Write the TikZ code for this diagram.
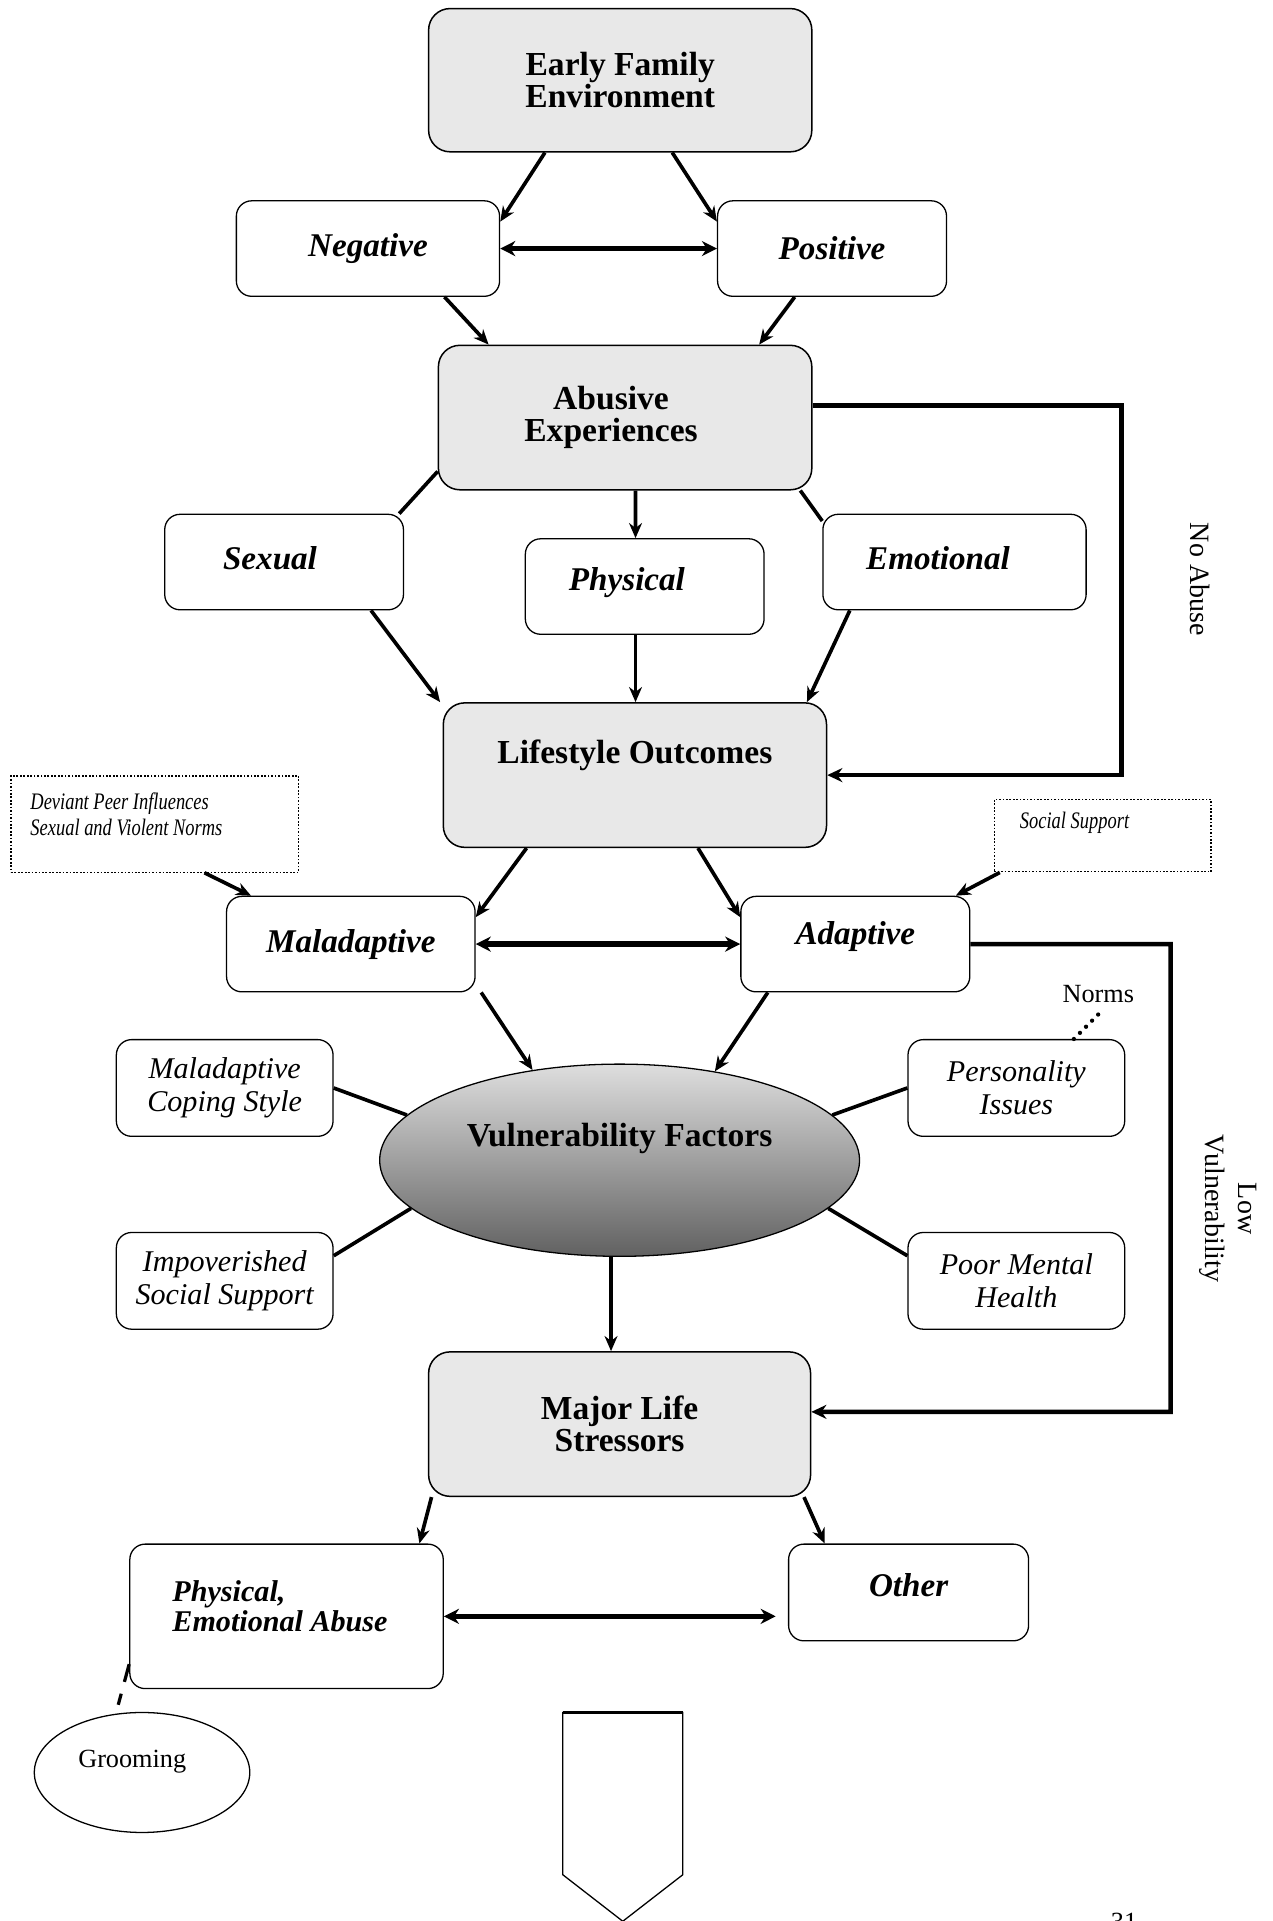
\documentclass[tikz,border=0pt]{standalone}
\usepackage{fontspec}
\setmainfont{Liberation Serif}
\newfontfamily\narrowfont[FakeStretch=0.78]{Liberation Serif}
\usepackage{tikz}
\usetikzlibrary{shapes.geometric, arrows.meta, calc}
\tikzstyle{bigbox} = [rectangle, rounded corners=0.35cm, minimum width=6.26cm, minimum height=2.36cm, align=center, draw=black, line width=0.7pt, fill=gray!18, font=\bfseries\fontsize{15.6}{15}\selectfont]
\tikzstyle{smallbox} = [rectangle, rounded corners=0.25cm, minimum height=1.56cm, align=center, draw=black, line width=0.6pt, fill=white, font=\bfseries\itshape\fontsize{15.4}{15}\selectfont]
\tikzstyle{sidebox} = [rectangle, rounded corners=0.25cm, minimum width=3.54cm, minimum height=1.58cm, align=center, draw=black, line width=0.6pt, font=\itshape\fontsize{14}{15.4}\selectfont]
\tikzstyle{notebox} = [rectangle, draw=black, line width=0.6pt, dash pattern=on 0.8pt off 0.8pt]
\tikzstyle{notetext} = [inner sep=0pt, align=left, font=\narrowfont\itshape\fontsize{11}{12.5}\selectfont]
\tikzstyle{sidelabel} = [font=\fontsize{13}{15}\selectfont]
\tikzstyle{plainlabel} = [font=\fontsize{12.2}{14}\selectfont]
\tikzstyle{arrow} = [line width=1.7pt,->,>={Stealth[length=7pt,width=6pt]}]
\tikzstyle{twoway} = [line width=2.5pt,<->,>={Stealth[length=7pt,width=7pt]}]
\tikzstyle{route} = [line width=2.1pt,->,>={Stealth[length=7pt,width=6.5pt]}]
\tikzstyle{link} = [line width=1.7pt]
\tikzstyle{dashlink} = [line width=1.5pt, dash pattern=on 0.3cm off 0.2cm, shorten >=0.15cm]
\tikzstyle{dotlink} = [line width=2pt, line cap=round, dash pattern=on 0pt off 4pt]
\begin{document}
\begin{tikzpicture}[x=0.02cm, y=-0.02cm]
	\useasboundingbox (0,0) rectangle (1038.8,1568.8);
	% family and abuse
	\node (efe) [bigbox, minimum height=2.34cm] at (506.5,65.5) {Early Family\\Environment};
	\node (neg) [smallbox, minimum width=4.3cm] at (300.5,203) {Negative};
	\node (pos) [smallbox, minimum width=3.74cm] at (679.5,203) {Positive};
	\node (abu) [bigbox, minimum width=6.1cm] at (510.5,341) {Abusive\hspace*{0.46cm}\\Experiences\hspace*{0.46cm}};
	\node (sex) [smallbox, minimum width=3.9cm, text depth=0.12cm] at (232,459) {Sexual\hspace*{0.46cm}};
	\node (phy) [smallbox, minimum width=3.9cm, text depth=0.24cm] at (526.5,479) {Physical\hspace*{0.58cm}};
	\node (emo) [smallbox, minimum width=4.3cm, text depth=0.12cm] at (779.5,459) {Emotional\hspace*{0.54cm}};
	\node (life) [bigbox, text depth=0.75cm] at (518.5,633) {Lifestyle Outcomes};
	% outcomes
	\node (dev) [notebox, minimum width=4.7cm, minimum height=1.57cm] at (126.5,673) {};
	\node (devtext) [notetext, anchor=west] at ($(dev.west)+(16,-8)$) {Deviant Peer Influences\\Sexual and Violent Norms};
	\node (soc) [notebox, minimum width=3.54cm, minimum height=1.18cm, notetext, inner sep=0pt, text depth=0.5cm] at (900.5,682.5) {Social Support\hspace*{0.92cm}};
	\node (mal) [smallbox, minimum width=4.06cm] at (286.5,771) {Maladaptive};
	\node (ada) [smallbox, minimum width=3.74cm, text depth=0.37cm] at (698.5,771) {Adaptive};
	% vulnerability
	\node (vf) [ellipse, draw=black, line width=0.6pt, top color=black!13, bottom color=black!62, minimum width=7.84cm, minimum height=3.14cm, font=\bfseries\fontsize{15.6}{15}\selectfont, text depth=0.84cm] at (506,947.5) {Vulnerability Factors};
	\node (cop) [sidebox] at (183.5,888.5) {Maladaptive\\Coping Style};
	\node (per) [sidebox] at (830,888.5) {Personality\\Issues};
	\node (imp) [sidebox] at (183.5,1046) {Impoverished\\Social Support};
	\node (pmh) [sidebox] at (830,1046) {Poor Mental\\Health};
	\node (norms) [plainlabel] at (897,812) {Norms};
	% stressors
	\node (mls) [bigbox, minimum width=6.24cm] at (506,1163) {Major Life\\Stressors};
	\node (pea) [smallbox, minimum width=5.12cm, minimum height=2.36cm] at (234,1320) {};
	\node (peatext) [anchor=west, inner sep=0pt, align=left, font=\bfseries\itshape\fontsize{14}{12.5}\selectfont] at ($(pea.west)+(35,-8.4)$) {Physical,\\Emotional Abuse};
	\node (oth) [smallbox, minimum width=3.92cm, minimum height=1.58cm, text depth=0.24cm] at (742,1300.5) {Other};
	\node (groom) [ellipse, draw=black, line width=0.6pt, minimum width=3.52cm, minimum height=1.96cm, plainlabel, text depth=0.45cm] at (116,1447.5) {Grooming\hspace*{0.32cm}};
	\node (noabusetext) [sidelabel, rotate=-90] at (980,473) {No Abuse};
	\node (lowvultext) [sidelabel, rotate=-90, align=center] at (1003,987) {Low\\Vulnerability};
	\node (pagenum) [anchor=north, inner sep=0pt, plainlabel] at (918,1562) {31};
	\coordinate (noabuse) at (916,633);
	\coordinate (lowvul) at (956,1153);
	% connectors
	\draw [arrow] ([xshift=-1.23cm]efe.south) -- ([yshift=.44cm]neg.east);
	\draw [arrow] ([xshift=.85cm]efe.south) -- ([yshift=.44cm]pos.west);
	\draw [twoway] (neg.east) -- (pos.west);
	\draw [arrow] ([xshift=1.25cm]neg.south) -- ([xshift=-2.23cm]abu.north);
	\draw [arrow] ([xshift=-.61cm]pos.south) -- ([xshift=2.19cm]abu.north);
	\draw [link] ([yshift=-.88cm]abu.west) -- ([xshift=-.08cm]sex.north east);
	\draw [arrow] ([xshift=.17cm]abu.south) -- ([xshift=-.15cm]phy.north);
	\draw [link] ([xshift=-.2cm]abu.south east) -- ([yshift=-.12cm]emo.north west);
	\draw [arrow] ([xshift=1.42cm]sex.south) -- ([xshift=-.04cm]life.north west);
	\draw [arrow] ([xshift=-.15cm]phy.south) -- ([xshift=-.15cm]phy.south |- life.north);
	\draw [arrow] ([xshift=-1.71cm]emo.south) -- ([xshift=2.81cm]life.north);
	\draw [route] ([yshift=.2cm]abu.east) -| (noabuse) -- (life.east);
	\draw [arrow] ([xshift=-1.77cm]life.south) -- ([yshift=.44cm]mal.east);
	\draw [arrow] ([xshift=1.03cm]life.south) -- ([yshift=.44cm]ada.west);
	\draw [arrow] ([xshift=.81cm]dev.south) -- ([xshift=-1.63cm]mal.north);
	\draw [arrow] ([xshift=.1cm]soc.south west) -- ([xshift=-.24cm]ada.north east);
	\draw [twoway] (mal.east) -- (ada.west);
	\draw [route] (ada.east) -| (lowvul) -- ([yshift=.2cm]mls.east);
	\draw [arrow] ([xshift=2.13cm]mal.south) -- (vf.134);
	\draw [arrow] ([xshift=-1.43cm]ada.south) -- (vf.43);
	\draw [link] (cop.east) -- (vf.168);
	\draw [link] (per.west) -- (vf.12);
	\draw [link] ([yshift=.41cm]imp.east) -- (vf.193);
	\draw [link] ([yshift=.41cm]pmh.west) -- (vf.-13);
	\draw [dotlink] ([xshift=.94cm]per.north) -- ([yshift=-.06cm]norms.south);
	\draw [arrow] ([xshift=-.14cm]vf.south) -- ([xshift=-.14cm]mls.north);
	\draw [arrow] ([xshift=.06cm]mls.south west) -- ([xshift=-.4cm]pea.north east);
	\draw [arrow] ([xshift=-.12cm]mls.south east) -- ([xshift=.6cm]oth.north west);
	\draw [twoway] (pea.east) -- ($(pea.east -| oth.west)+(-10,0)$);
	\draw [dashlink] ([yshift=.41cm]pea.south west) -- (groom.114);
	% block arrow
	\draw [line width=0.6pt] (459.6,1398.6) -- (557.6,1398.6) -- (557.6,1531) -- (508.6,1569) -- (459.6,1531) -- cycle;
	\draw [line width=1.4pt] (459.6,1398.6) -- (557.6,1398.6);
\end{tikzpicture}
\end{document}
